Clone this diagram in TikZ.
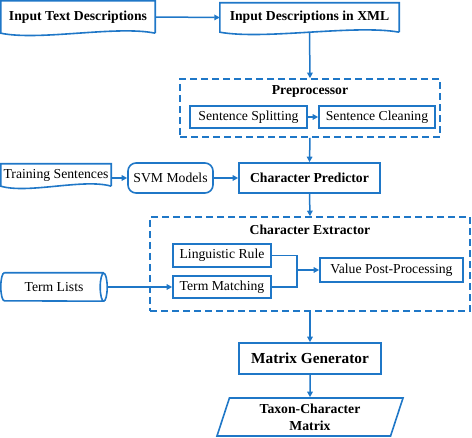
\documentclass[tikz,border=0pt]{standalone}
\usepackage{fontspec}
\setmainfont{Liberation Serif}
\usepackage{xcolor}
\usetikzlibrary{arrows.meta,shapes.geometric,calc}
\definecolor{flowblue}{RGB}{31,119,199}

\begin{document}
\begin{tikzpicture}[x=1pt,y=-1pt,
  every node/.style={font=\fontsize{13.7}{16}\selectfont},
  hd/.style={font=\fontsize{13.7}{17}\selectfont\bfseries},
  blk/.style={draw=flowblue,line width=1.6pt,inner sep=2pt},
  doc/.style={inner sep=2pt},
  grpbox/.style={draw=flowblue,line width=1.6pt,dash pattern=on 7pt off 4pt},
  lnk/.style={draw=flowblue,line width=1.5pt},
  arr/.style={lnk,-{Triangle[length=5.5pt,width=5.5pt]}}]
\useasboundingbox (0,0) rectangle (472,438);

% inputs
\node[doc,hd,minimum width=154pt,minimum height=32pt] (txt) at (78,17) {Input Text Descriptions};
\node[doc,hd,minimum width=179pt,minimum height=29pt] (xml) at (309.5,17.5) {Input Descriptions in XML};
\node[doc,minimum width=110pt,minimum height=22pt] (train) at (56,175) {Training Sentences};
\foreach \n in {txt,xml,train}
  \draw[lnk,line width=1.6pt] (\n.south east) -- (\n.north east) -- (\n.north west) -- (\n.south west)
    .. controls ($(\n.south west)!0.25!(\n.south east)+(0,8)$)
       and ($(\n.south west)!0.75!(\n.south east)+(0,-8)$) .. (\n.south east);

% preprocessor
\node[grpbox,minimum width=260pt,minimum height=58pt] (pre) at (310,108) {};
\node[hd] (pretitle) at (310,91) {Preprocessor};
\node[blk,minimum width=117pt,minimum height=22pt] (split) at (248.5,117) {Sentence Splitting};
\node[blk,minimum width=116pt,minimum height=22pt] (clean) at (377,117) {Sentence Cleaning};

% prediction
\node[blk,rounded corners=8pt,minimum width=85pt,minimum height=30pt] (svm) at (170.5,178) {SVM Models};
\node[blk,hd,minimum width=141pt,minimum height=30pt] (pred) at (309.5,178) {Character Predictor};

% extractor
\node[grpbox,minimum width=320pt,minimum height=94pt] (ext) at (310,264) {};
\node[hd] (exttitle) at (310,230) {Character Extractor};
\node[blk,minimum width=98pt,minimum height=23pt] (ling) at (222,255.5) {Linguistic Rule};
\node[blk,minimum width=98pt,minimum height=22pt] (match) at (222,287) {Term Matching};
\node[blk,minimum width=143pt,minimum height=24pt] (value) at (391.5,270) {Value Post-Processing};
\node[doc,minimum width=106pt,minimum height=28pt] (terms) at (54,287) {Term Lists};
\draw[lnk,line width=1.6pt] ($(terms.north west)+(3.5,0)$)
    arc[start angle=90,end angle=270,x radius=3.5pt,y radius=14pt]
    -- ($(terms.south east)+(-3.5,0)$)
    arc[start angle=270,end angle=450,x radius=3.5pt,y radius=14pt]
    arc[start angle=90,end angle=270,x radius=3.5pt,y radius=14pt]
    ($(terms.north east)+(-3.5,0)$) -- ($(terms.north west)+(3.5,0)$);
\coordinate (jn) at (297,270);

% output
\node[blk,font=\fontsize{15.3}{17}\selectfont\bfseries,minimum width=142pt,minimum height=31pt] (mat) at (310,358.5) {Matrix Generator};
\node[blk,hd,trapezium,trapezium left angle=65,trapezium right angle=115,trapezium stretches body,
  minimum width=186pt,minimum height=38pt,align=center,inner sep=0pt] (taxon) at (310,417) {Taxon-Character\\Matrix};

% connectors
\draw[arr] (txt.east) -- (xml.west);
\draw[arr] (xml.south) -- (pre.north);
\draw[arr] (split.east) -- (clean.west);
\draw[arr] (pre.south) -- (pred.north);
\draw[arr] (train.east |- svm.west) -- (svm.west);
\draw[arr] (svm.east) -- (pred.west);
\draw[arr] (pred.south) -- (ext.north);
\draw[arr] (terms.east) -- (match.west);
\draw[lnk] (ling.east) -| (jn) |- (match.east);
\draw[arr] (jn) -- (value.west);
\draw[arr] (ext.south) -- (mat.north);
\draw[arr] (mat.south) -- (taxon.north);
\end{tikzpicture}
\end{document}
